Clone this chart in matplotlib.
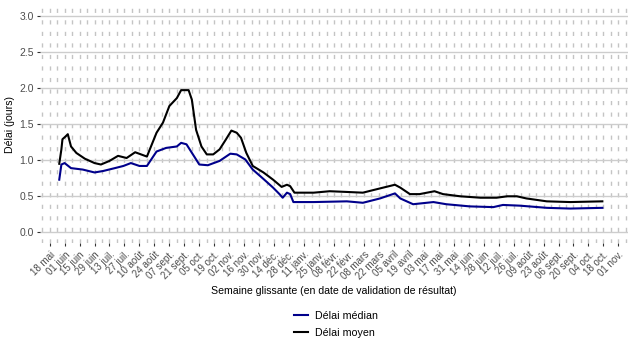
import matplotlib
matplotlib.use("Agg")
import matplotlib.pyplot as plt
import numpy as np
import datetime as dt

plt.rcParams['font.family'] = ['Liberation Sans', 'DejaVu Sans']

# Délai moyen (jours)
mean_dates = ["2020-05-27", "2020-05-29", "2020-05-30", "2020-06-02", "2020-06-04",
              "2020-06-07", "2020-06-12", "2020-06-20", "2020-06-29", "2020-07-05",
              "2020-07-13", "2020-07-21", "2020-07-29", "2020-08-06", "2020-08-17",
              "2020-08-26", "2020-09-01", "2020-09-07", "2020-09-14", "2020-09-18",
              "2020-09-25", "2020-09-28", "2020-10-02", "2020-10-07", "2020-10-12",
              "2020-10-18", "2020-10-24", "2020-10-30", "2020-11-04", "2020-11-09",
              "2020-11-13", "2020-11-18", "2020-11-24", "2020-12-04", "2020-12-13",
              "2020-12-21", "2020-12-26", "2020-12-29", "2021-01-02", "2021-01-20",
              "2021-02-04", "2021-02-20", "2021-03-07", "2021-03-26", "2021-04-06",
              "2021-04-11", "2021-04-20", "2021-04-29", "2021-05-13", "2021-05-21",
              "2021-06-06", "2021-06-25", "2021-07-10", "2021-07-20", "2021-07-29",
              "2021-08-07", "2021-08-26", "2021-09-17", "2021-10-17"]
mean_values = [0.95, 1.15, 1.29, 1.33, 1.36,
               1.19, 1.10, 1.02, 0.96, 0.94,
               0.99, 1.06, 1.03, 1.11, 1.05,
               1.38, 1.52, 1.75, 1.86, 1.97,
               1.97, 1.84, 1.42, 1.19, 1.08,
               1.08, 1.15, 1.29, 1.41, 1.38,
               1.31, 1.10, 0.92, 0.83, 0.73,
               0.63, 0.66, 0.64, 0.55, 0.55,
               0.57, 0.56, 0.55, 0.62, 0.66,
               0.62, 0.53, 0.53, 0.57, 0.53,
               0.50, 0.48, 0.48, 0.50, 0.50,
               0.47, 0.43, 0.42, 0.43]

# Délai médian (jours)
median_dates = ["2020-05-27", "2020-05-29", "2020-06-01", "2020-06-07", "2020-06-18",
                "2020-06-29", "2020-07-07", "2020-07-18", "2020-07-26", "2020-08-02",
                "2020-08-10", "2020-08-17", "2020-08-26", "2020-09-04", "2020-09-14",
                "2020-09-18", "2020-09-23", "2020-09-29", "2020-10-05", "2020-10-13",
                "2020-10-24", "2020-11-03", "2020-11-09", "2020-11-17", "2020-11-24",
                "2020-12-04", "2020-12-13", "2020-12-19", "2020-12-22", "2020-12-26",
                "2020-12-29", "2021-01-01", "2021-01-20", "2021-02-20", "2021-03-07",
                "2021-03-23", "2021-04-06", "2021-04-11", "2021-04-23", "2021-05-12",
                "2021-05-24", "2021-06-15", "2021-07-07", "2021-07-16", "2021-08-01",
                "2021-08-26", "2021-09-17", "2021-10-17"]
median_values = [0.73, 0.94, 0.96, 0.89, 0.87,
                 0.83, 0.85, 0.89, 0.92, 0.96,
                 0.92, 0.92, 1.12, 1.17, 1.19,
                 1.24, 1.22, 1.08, 0.94, 0.93,
                 0.99, 1.09, 1.08, 1.01, 0.87,
                 0.74, 0.62, 0.53, 0.48, 0.55,
                 0.53, 0.42, 0.42, 0.43, 0.41,
                 0.47, 0.54, 0.47, 0.39, 0.42,
                 0.39, 0.36, 0.35, 0.38, 0.37,
                 0.34, 0.33, 0.34]

month_names = ["janv.", "févr.", "mars", "avril", "mai", "juin",
               "juil.", "août", "sept.", "oct.", "nov.", "déc."]
first_tick = dt.date(2020, 5, 18)
last_tick = dt.date(2021, 11, 1)

mean_x = [dt.date.fromisoformat(d) for d in mean_dates]
median_x = [dt.date.fromisoformat(d) for d in median_dates]

# ticks every two weeks, dashed grid every week
tick_dates = []
d = first_tick
while d <= last_tick:
    tick_dates.append(d)
    d += dt.timedelta(days=14)
tick_labels = [f"{t.day:02d} {month_names[t.month - 1]}" for t in tick_dates]

grid_dates = []
d = first_tick - dt.timedelta(days=7)
while d <= last_tick + dt.timedelta(days=7):
    grid_dates.append(d)
    d += dt.timedelta(days=7)

fig = plt.figure(figsize=(6.35, 3.53), dpi=100)
ax = fig.add_axes([0.063, 0.311, 0.926, 0.675])

for g in grid_dates:
    ax.axvline(g, color="#c4c4c4", lw=1.0, ls=(0, (3, 5.3)), zorder=0)
for yv in np.arange(0, 3.01, 0.5):
    ax.axhline(yv, color="#cdcdcd", lw=1.0, zorder=0.5)

ax.plot(median_x, median_values, color="#00008b", lw=1.5, label="Délai médian", zorder=3)
ax.plot(mean_x, mean_values, color="black", lw=1.5, label="Délai moyen", zorder=3)

ax.set_ylim(-0.15, 3.15)
ax.set_xlim(first_tick - dt.timedelta(days=9.5), last_tick + dt.timedelta(days=9))
ax.set_yticks(np.arange(0, 3.01, 0.5))
ax.set_yticklabels([f"{v:.1f}" for v in np.arange(0, 3.01, 0.5)])
ax.set_xticks(tick_dates)
ax.set_xticklabels(tick_labels, rotation=45, ha="right", rotation_mode="anchor")

for s in ax.spines.values():
    s.set_visible(False)
ax.tick_params(axis="both", colors="#333333", labelcolor="#4d4d4d",
               length=2.5, width=0.8, labelsize=7.0, pad=2)
ax.tick_params(axis="y", labelsize=7.5)

ax.set_ylabel("Délai (jours)", fontsize=7.6, labelpad=3)
ax.set_xlabel("Semaine glissante (en date de validation de résultat)", fontsize=7.6, labelpad=3)

fig.legend(loc="center", bbox_to_anchor=(0.529, 0.081), frameon=False,
           fontsize=7.7, handlelength=1.3, labelspacing=0.6, handletextpad=0.7)

fig.savefig("out.png", dpi=100)
